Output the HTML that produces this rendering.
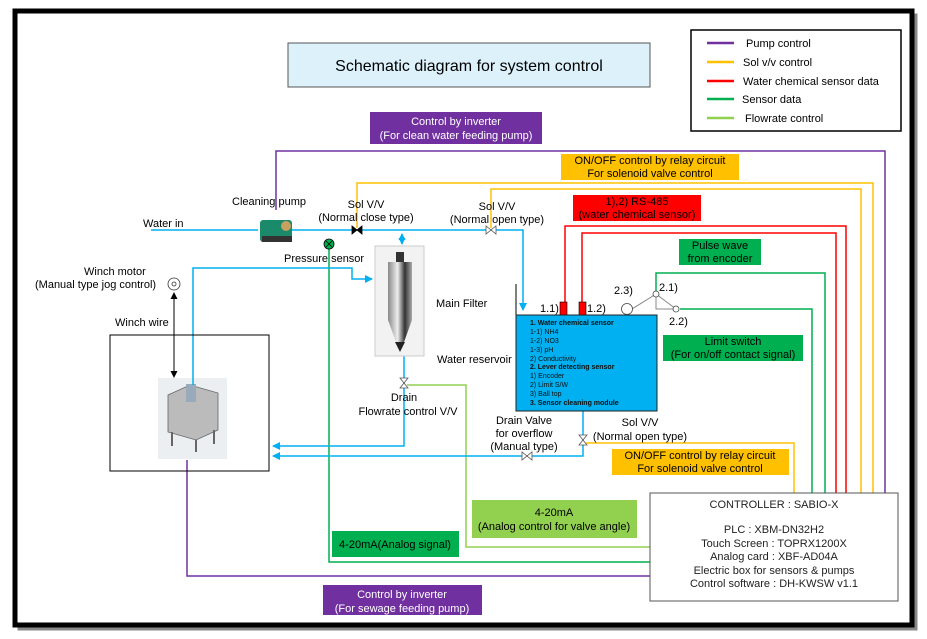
<!DOCTYPE html>
<html><head><meta charset="utf-8"><style>
html,body{margin:0;padding:0;background:#fff;}
svg{display:block;font-family:"Liberation Sans",sans-serif;}
</style></head><body>
<svg width="927" height="639" viewBox="0 0 927 639" xmlns="http://www.w3.org/2000/svg">
<defs>
<marker id="ab" markerWidth="8" markerHeight="8" refX="7" refY="4" orient="auto" markerUnits="userSpaceOnUse"><path d="M0,0 L8,4 L0,8 z" fill="#00b0f0"/></marker>
<marker id="ak" markerWidth="7" markerHeight="7" refX="6" refY="3.5" orient="auto-start-reverse" markerUnits="userSpaceOnUse"><path d="M0,0 L7,3.5 L0,7 z" fill="#000"/></marker>
<marker id="akb" markerWidth="7" markerHeight="7" refX="6" refY="3.5" orient="auto-start-reverse" markerUnits="userSpaceOnUse"><path d="M0,0 L7,3.5 L0,7 z" fill="#00b0f0"/></marker>
<linearGradient id="met" x1="0" x2="1"><stop offset="0" stop-color="#888"/><stop offset="0.4" stop-color="#eee"/><stop offset="0.7" stop-color="#333"/><stop offset="1" stop-color="#aaa"/></linearGradient>
</defs>
<rect x="17" y="13" width="897" height="614" fill="none" stroke="#888" stroke-width="3" transform="translate(2,2)"/>
<rect x="15" y="11" width="897" height="614" fill="#fff" stroke="#000" stroke-width="5"/>

<rect x="288" y="43" width="362" height="44" fill="#ddf1fb" stroke="#555" stroke-width="1"/>
<text x="469" y="71" font-size="16" text-anchor="middle">Schematic diagram for system control</text>

<rect x="691" y="30" width="210" height="101" fill="#fff" stroke="#000" stroke-width="1.5"/>
<g stroke-width="2.5">
<line x1="707" y1="43" x2="734" y2="43" stroke="#7030a0"/>
<line x1="707" y1="62" x2="734" y2="62" stroke="#ffc000"/>
<line x1="707" y1="81" x2="734" y2="81" stroke="#ff0000"/>
<line x1="707" y1="99" x2="734" y2="99" stroke="#00b050"/>
<line x1="707" y1="118" x2="734" y2="118" stroke="#92d050"/>
</g>
<g font-size="11">
<text x="746" y="47">Pump control</text>
<text x="743" y="66">Sol v/v control</text>
<text x="743" y="85">Water chemical sensor data</text>
<text x="742" y="103">Sensor data</text>
<text x="745" y="122">Flowrate control</text>
</g>

<g fill="none" stroke-width="1.5">
<polyline points="276,210 276,151 885,151 885,493" stroke="#7030a0"/>
<polyline points="357,228 357,183 873,183 873,493" stroke="#ffc000"/>
<polyline points="491,228 491,189 861,189 861,493" stroke="#ffc000"/>
<polyline points="565,302 565,226 846,226 846,493" stroke="#ff0000"/>
<polyline points="582,302 582,233 836,233 836,493" stroke="#ff0000"/>
<polyline points="656,294 656,273 825,273 825,493" stroke="#00b050"/>
<polyline points="680,309 812,309 812,493" stroke="#00b050"/>
<polyline points="586,443 794,443 794,493" stroke="#ffc000"/>
<polyline points="329,248 329,562 650,562" stroke="#00b050"/>
<polyline points="407,385 466,385 466,547 650,547" stroke="#92d050"/>
<polyline points="187,460 187,576 650,576" stroke="#7030a0"/>
</g>

<g fill="none" stroke="#00b0f0" stroke-width="1.5">
<line x1="151" y1="230" x2="258" y2="230"/>
<polyline points="292,230 523,230 523,310" marker-end="url(#ab)"/>
<line x1="402" y1="234" x2="402" y2="244" marker-start="url(#akb)" marker-end="url(#akb)"/>
<polyline points="193,378 193,268 352,268 352,279 372,279" marker-end="url(#ab)"/>
<polyline points="404,356 404,446 273,446" marker-end="url(#ab)"/>
<polyline points="583,411 583,456 273,456" marker-end="url(#ab)"/>
</g>

<g stroke="#000" stroke-width="0.8">
<path d="M352,226 L352,234 L357,230 z M362,226 L362,234 L357,230 z" fill="#000"/>
<path d="M486,226 L486,234 L491,230 z M496,226 L496,234 L491,230 z" fill="#fff" stroke="#555"/>
<path d="M400,378 L408,378 L404,383 z M400,388 L408,388 L404,383 z" fill="#fff" stroke="#555"/>
<path d="M579,435 L587,435 L583,440 z M579,445 L587,445 L583,440 z" fill="#fff" stroke="#555"/>
<path d="M522,452 L522,460 L527,456 z M532,452 L532,460 L527,456 z" fill="#fff" stroke="#555"/>
</g>

<rect x="260" y="220" width="32" height="22" rx="3" fill="#1a8a6a"/>
<rect x="262" y="236" width="30" height="6" fill="#333"/>
<circle cx="286" cy="226" r="5" fill="#c8a060"/>
<text x="232" y="205" font-size="11">Cleaning pump</text>
<text x="143" y="227" font-size="11">Water in</text>

<circle cx="329" cy="244" r="5" fill="#00b050" stroke="#000" stroke-width="0.8"/>
<path d="M326,241 L332,247 M332,241 L326,247" stroke="#000" stroke-width="0.8"/>
<text x="284" y="262" font-size="11">Pressure sensor</text>

<g font-size="11" text-anchor="middle">
<text x="366" y="208">Sol V/V</text>
<text x="366" y="221">(Normal close type)</text>
<text x="497" y="210">Sol V/V</text>
<text x="497" y="223">(Normal open type)</text>
</g>

<rect x="375" y="246" width="49" height="110" fill="#f2f2f2" stroke="#ccc"/>
<path d="M388,262 L412,262 L412,320 L404,342 L396,342 L388,320 z" fill="url(#met)"/>
<rect x="396" y="252" width="8" height="10" fill="#333"/>
<path d="M395,342 L405,342 L400,352 z" fill="#222"/>
<text x="436" y="307" font-size="11">Main Filter</text>
<text x="437" y="363" font-size="11">Water reservoir</text>
<line x1="516" y1="284" x2="516" y2="315" stroke="#000" stroke-width="1"/>
<text x="404" y="401" font-size="11" text-anchor="middle">Drain</text>
<text x="408" y="415" font-size="11" text-anchor="middle">Flowrate control V/V</text>

<text x="84" y="275" font-size="11">Winch motor</text>
<text x="35" y="288" font-size="11">(Manual type jog control)</text>
<circle cx="174" cy="284" r="6" fill="#fff" stroke="#333" stroke-width="0.8"/>
<circle cx="174" cy="284" r="2" fill="none" stroke="#333" stroke-width="0.8"/>
<line x1="174" y1="293" x2="174" y2="377" stroke="#000" stroke-width="1" marker-start="url(#ak)" marker-end="url(#ak)"/>
<text x="115" y="326" font-size="11">Winch wire</text>
<rect x="110" y="335" width="159" height="136" fill="none" stroke="#000" stroke-width="1"/>
<rect x="158" y="378" width="69" height="81" fill="#eceff2"/>
<path d="M168,395 L190,385 L218,393 L218,430 L196,440 L168,432 z" fill="#bbb" stroke="#666" stroke-width="0.8"/>
<rect x="186" y="384" width="10" height="18" fill="#9ab" />
<line x1="172" y1="432" x2="172" y2="446" stroke="#666" stroke-width="2"/>
<line x1="214" y1="430" x2="214" y2="444" stroke="#666" stroke-width="2"/>
<line x1="196" y1="440" x2="196" y2="452" stroke="#666" stroke-width="2"/>
<line x1="193" y1="378" x2="193" y2="385" stroke="#00b0f0" stroke-width="1.5"/>

<rect x="560" y="302" width="7" height="13" fill="#ff0000" stroke="#000" stroke-width="0.6"/>
<rect x="579" y="302" width="7" height="13" fill="#ff0000" stroke="#000" stroke-width="0.6"/>
<text x="540" y="312" font-size="11">1.1)</text>
<text x="587" y="312" font-size="11">1.2)</text>
<rect x="516" y="315" width="141" height="96" fill="#00b0f0" stroke="#222" stroke-width="1"/>
<g font-size="7" fill="#111">
<text x="530" y="325" font-weight="bold">1. Water chemical sensor</text>
<text x="530" y="334">1-1) NH4</text>
<text x="530" y="343">1-2) NO3</text>
<text x="530" y="352">1-3) pH</text>
<text x="530" y="361">2) Conductivity</text>
<text x="530" y="369" font-weight="bold">2. Lever detecting sensor</text>
<text x="530" y="378">1) Encoder</text>
<text x="530" y="387">2) Limit S/W</text>
<text x="530" y="396">3) Ball top</text>
<text x="530" y="405" font-weight="bold">3. Sensor cleaning module</text>
</g>
<g stroke="#888" stroke-width="1" fill="none">
<line x1="632" y1="309" x2="656" y2="294"/>
<line x1="656" y1="294" x2="676" y2="309"/>
<polyline points="656,294 656,309 676,309"/>
</g>
<circle cx="627" cy="309" r="5.5" fill="#fff" stroke="#444" stroke-width="0.8"/>
<circle cx="656" cy="294" r="3" fill="#fff" stroke="#444" stroke-width="0.8"/>
<circle cx="676" cy="309" r="3" fill="#fff" stroke="#444" stroke-width="0.8"/>
<text x="614" y="294" font-size="11">2.3)</text>
<text x="659" y="291" font-size="11">2.1)</text>
<text x="669" y="325" font-size="11">2.2)</text>

<g font-size="11" text-anchor="middle">
<text x="524" y="424">Drain Valve</text>
<text x="524" y="437">for overflow</text>
<text x="524" y="450">(Manual type)</text>
<text x="640" y="426">Sol V/V</text>
<text x="640" y="440">(Normal open type)</text>
</g>

<g font-size="11" text-anchor="middle">
<rect x="370" y="112" width="172" height="32" fill="#7030a0"/>
<text x="456" y="125" fill="#fff">Control by inverter</text>
<text x="456" y="139" fill="#fff">(For clean water feeding pump)</text>
<rect x="561" y="154" width="178" height="26" fill="#ffc000"/>
<text x="650" y="164">ON/OFF control by relay circuit</text>
<text x="650" y="177">For solenoid valve control</text>
<rect x="573" y="195" width="128" height="26" fill="#ff0000"/>
<text x="637" y="205">1),2) RS-485</text>
<text x="637" y="218">(water chemical sensor)</text>
<rect x="679" y="239" width="82" height="26" fill="#00b050"/>
<text x="720" y="249">Pulse wave</text>
<text x="720" y="262">from encoder</text>
<rect x="663" y="335" width="140" height="26" fill="#00b050"/>
<text x="733" y="345">Limit switch</text>
<text x="733" y="358">(For on/off contact signal)</text>
<rect x="612" y="449" width="177" height="26" fill="#ffc000"/>
<text x="700" y="459">ON/OFF control by relay circuit</text>
<text x="700" y="472">For solenoid valve control</text>
<rect x="472" y="500" width="165" height="38" fill="#92d050"/>
<text x="554" y="516">4-20mA</text>
<text x="554" y="530">(Analog control for valve angle)</text>
<rect x="332" y="531" width="127" height="26" fill="#00b050"/>
<text x="395" y="548">4-20mA(Analog signal)</text>
<rect x="323" y="585" width="159" height="30" fill="#7030a0"/>
<text x="402" y="598" fill="#fff">Control by inverter</text>
<text x="402" y="612" fill="#fff">(For sewage feeding pump)</text>
</g>

<rect x="650" y="493" width="248" height="108" fill="#fff" stroke="#555" stroke-width="1"/>
<g font-size="11" text-anchor="middle" fill="#222">
<text x="774" y="508">CONTROLLER : SABIO-X</text>
<text x="774" y="533">PLC : XBM-DN32H2</text>
<text x="774" y="547">Touch Screen : TOPRX1200X</text>
<text x="774" y="560">Analog card : XBF-AD04A</text>
<text x="774" y="574">Electric box for sensors &amp; pumps</text>
<text x="774" y="587">Control software : DH-KWSW v1.1</text>
</g>
</svg>
</body></html>
